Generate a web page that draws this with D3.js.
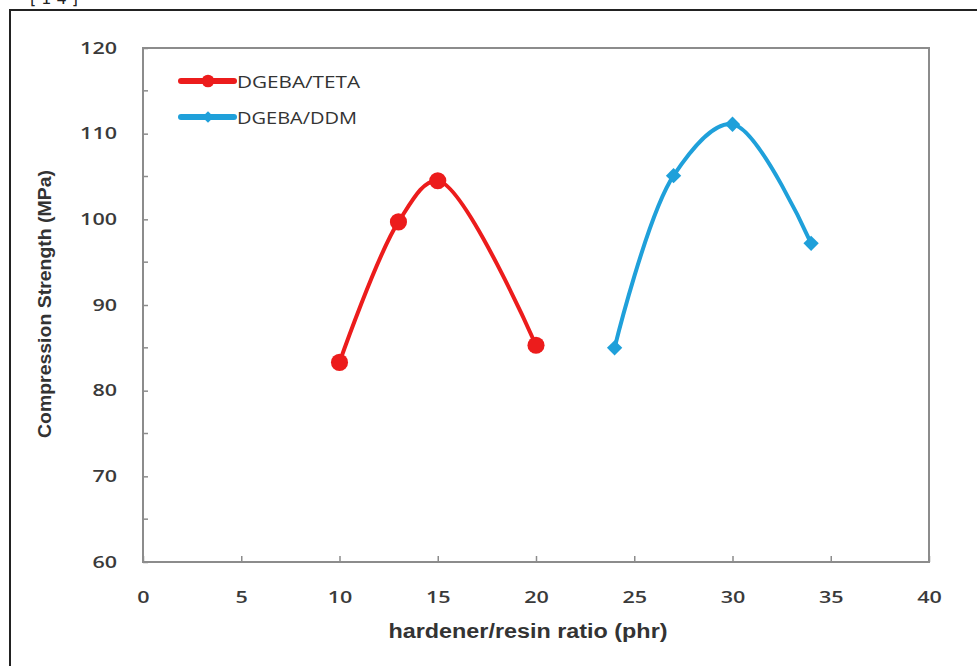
<!DOCTYPE html>
<html>
<head>
<meta charset="utf-8">
<script src="https://cdn.jsdelivr.net/npm/d3@7"></script>
<style>
  body { margin: 0; background: #fff; }
  .tick text { font-family: 'Open Sans', 'DejaVu Sans', sans-serif; font-weight: 600; font-size: 16px; fill: #3a3a3a; }
  .axis-label { font-family: 'Liberation Sans Narrow', 'Liberation Sans', sans-serif; font-weight: bold; font-size: 20px; fill: #333; }
  .legend-text { font-family: 'Open Sans', 'DejaVu Sans', sans-serif; font-size: 17px; fill: #333; }
</style>
</head>
<body>
<svg width="977" height="666"></svg>
<script>
  const svg = d3.select('svg');

  // data
  const tetaX = [10, 13, 15, 20];
  const tetaY = [83.3, 99.7, 104.5, 85.3];
  const ddmX = [24, 27, 30, 34];
  const ddmY = [85.0, 105.1, 111.1, 97.2];
  const seriesNames = ['DGEBA/TETA', 'DGEBA/DDM'];
  const xTicks = [0, 5, 10, 15, 20, 25, 30, 35, 40];
  const yTicks = [60, 70, 80, 90, 100, 110, 120];
  const yMinorTicks = [65, 75, 85, 95, 105, 115];

  const margin = {top: 48, left: 143};
  const innerWidth = 929 - 143;
  const innerHeight = 562 - 48;

  // outer frame (top and left edges visible) + cut-off reference mark
  svg.append('path')
    .attr('d', 'M10,666V10H977')
    .attr('fill', 'none').attr('stroke', '#222').attr('stroke-width', 2);
  svg.append('text')
    .attr('x', 30).attr('y', 4)
    .attr('font-family', 'DejaVu Sans').attr('font-size', 16).attr('fill', '#222')
    .attr('textLength', 48)
    .text('[14]');

  const xScale = d3.scaleLinear().domain([0, 40]).range([0, innerWidth]);
  const yScale = d3.scaleLinear().domain([60, 120]).range([innerHeight, 0]);

  const g = svg.append('g')
    .attr('transform', `translate(${margin.left},${margin.top})`);

  // plot frame
  g.append('rect')
    .attr('width', innerWidth).attr('height', innerHeight)
    .attr('fill', 'none').attr('stroke', '#8c8c8c').attr('stroke-width', 2);

  // widen tick digits like the stretched original
  const stretch = sel => sel.selectAll('.tick text')
    .attr('textLength', function () { return this.textContent.length * 12.3; })
    .attr('lengthAdjust', 'spacingAndGlyphs');

  const xAxis = d3.axisBottom(xScale)
    .tickValues(xTicks)
    .tickSize(-6)
    .tickPadding(30);
  const xAxisG = g.append('g')
    .attr('transform', `translate(0,${innerHeight})`)
    .call(xAxis)
    .call(stretch);
  xAxisG.select('.domain').remove();
  xAxisG.selectAll('.tick line').attr('stroke', '#8c8c8c').attr('stroke-width', 1.5);

  const yAxis = d3.axisLeft(yScale)
    .tickValues(yTicks)
    .tickSize(-5)
    .tickPadding(26);
  const yAxisG = g.append('g').call(yAxis).call(stretch);
  yAxisG.select('.domain').remove();
  yAxisG.selectAll('.tick line').attr('stroke', '#8c8c8c').attr('stroke-width', 1.5);

  g.append('g').selectAll('line')
    .data(yMinorTicks)
    .enter().append('line')
    .attr('x1', 0).attr('x2', 5)
    .attr('y1', d => yScale(d)).attr('y2', d => yScale(d))
    .attr('stroke', '#8c8c8c').attr('stroke-width', 1.5);

  g.append('text')
    .attr('class', 'axis-label')
    .attr('x', innerWidth / 2 - 8)
    .attr('y', innerHeight + 76)
    .attr('text-anchor', 'middle')
    .attr('textLength', 279)
    .attr('lengthAdjust', 'spacingAndGlyphs')
    .text('hardener/resin ratio (phr)');

  g.append('text')
    .attr('class', 'axis-label')
    .style('font-size', '19px')
    .attr('transform', `rotate(-90)`)
    .attr('x', -innerHeight / 2 + 1)
    .attr('y', -92)
    .attr('text-anchor', 'middle')
    .attr('textLength', 268)
    .attr('lengthAdjust', 'spacingAndGlyphs')
    .text('Compression Strength (MPa)');

  const series = [
    {name: seriesNames[0], color: '#ec1c1c', shape: 'circle',
     values: tetaX.map((x, i) => ({x, y: tetaY[i]}))},
    {name: seriesNames[1], color: '#1fa0da', shape: 'diamond',
     values: ddmX.map((x, i) => ({x, y: ddmY[i]}))}
  ];

  const lineGen = d3.line()
    .x(d => xScale(d.x))
    .y(d => yScale(d.y))
    .curve(d3.curveCatmullRom.alpha(0.5));

  const symbolFor = (s, k) => s.shape === 'circle'
    ? d3.symbol().type(d3.symbolCircle).size(230 * k)
    : d3.symbol().type(d3.symbolDiamond2).size(150 * k);

  series.forEach(s => {
    g.append('path')
      .attr('d', lineGen(s.values))
      .attr('fill', 'none')
      .attr('stroke', s.color)
      .attr('stroke-width', 4);
    g.selectAll(null)
      .data(s.values)
      .enter().append('path')
      .attr('transform', d => `translate(${xScale(d.x)},${yScale(d.y)})`)
      .attr('d', symbolFor(s, 1)())
      .attr('fill', s.color);
  });

  // legend
  const legend = svg.append('g').attr('transform', 'translate(181,81)');
  series.forEach((s, i) => {
    const row = legend.append('g').attr('transform', `translate(0,${i * 36})`);
    row.append('line')
      .attr('x1', 0).attr('x2', 53)
      .attr('stroke', s.color).attr('stroke-width', 6)
      .attr('stroke-linecap', 'round');
    row.append('path')
      .attr('transform', 'translate(27,0)')
      .attr('d', symbolFor(s, 0.55)())
      .attr('fill', s.color);
    row.append('text')
      .attr('class', 'legend-text')
      .attr('x', 56).attr('y', 7)
      .attr('textLength', s.name === 'DGEBA/TETA' ? 123 : 120)
      .attr('lengthAdjust', 'spacingAndGlyphs')
      .text(s.name);
  });
</script>
</body>
</html>
